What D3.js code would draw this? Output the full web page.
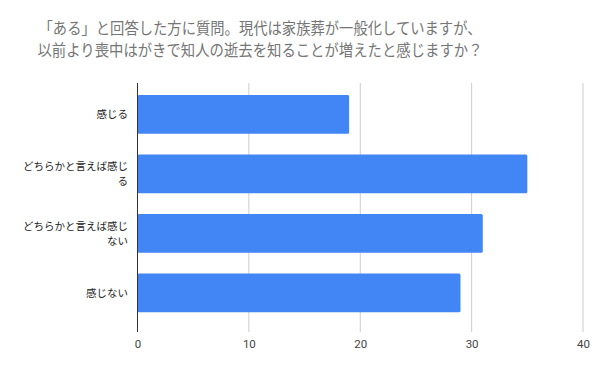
<!DOCTYPE html>
<html>
<head>
<meta charset="utf-8">
<script src="https://cdn.jsdelivr.net/npm/d3@7"></script>
<style>
  body { margin: 0; background: #fff; }
  svg { display: block; font-family: "Noto Sans CJK JP", "Noto Sans", sans-serif; }
</style>
</head>
<body>
<div id="chart"></div>
<script>
const width = 602;
const height = 372;

// data
const titleLines = [
    "「ある」と回答した方に質問。現代は家族葬が一般化していますが、",
    "以前より喪中はがきで知人の逝去を知ることが増えたと感じますか？"
];
const categories = ["感じる", "どちらかと言えば感じる", "どちらかと言えば感じない", "感じない"];
const categoryLines = [["感じる"], ["どちらかと言えば感じ", "る"], ["どちらかと言えば感じ", "ない"], ["感じない"]];
const values = [19, 35, 31, 29];
const xTicks = [0, 10, 20, 30, 40];

const plot = {left: 137.5, right: 583, top: 83, bottom: 332};

const svg = d3.select('#chart')
    .append('svg')
    .attr('width', width)
    .attr('height', height)
    .attr('viewBox', [0, 0, width, height]);

const x = d3.scaleLinear()
    .domain([0, 40])
    .range([plot.left, plot.right]);

const y = d3.scaleBand()
    .domain(categories)
    .range([84.6, 322.6])
    .paddingInner(0.35)
    .paddingOuter(0.175);

// title (the source squeezes brackets and punctuation, so fit each line to its measured width)
svg.append('g')
    .selectAll('text')
    .data(titleLines)
    .enter()
    .append('text')
        .attr('x', 260)
        .attr('y', (d, i) => 34 + i * 22)
        .attr('text-anchor', 'middle')
        .attr('font-size', 15.5)
        .attr('fill', '#757575')
        .attr('textLength', (d, i) => i === 0 ? 443 : 445)
        .attr('lengthAdjust', 'spacingAndGlyphs')
        .text(d => d);

// gridlines
svg.append('g')
    .selectAll('line')
    .data(xTicks.filter(d => d !== 0))
    .enter()
    .append('line')
        .attr('x1', d => x(d))
        .attr('x2', d => x(d))
        .attr('y1', plot.top)
        .attr('y2', plot.bottom)
        .attr('stroke', '#cccccc')
        .attr('stroke-width', 1);

// bars
svg.append('g')
    .attr('fill', '#4285f4')
    .selectAll('rect')
    .data(categories)
    .enter()
    .append('rect')
        .attr('x', x(0))
        .attr('y', d => y(d))
        .attr('width', (d, i) => x(values[i]) - x(0))
        .attr('height', y.bandwidth())
        .attr('rx', 1.5);

// baseline
svg.append('line')
    .attr('x1', x(0))
    .attr('x2', x(0))
    .attr('y1', plot.top)
    .attr('y2', plot.bottom)
    .attr('stroke', '#333333')
    .attr('stroke-width', 1);

// x tick labels
const xAxis = svg.append('g')
    .attr('transform', `translate(0, ${plot.bottom})`)
    .call(d3.axisBottom(x).tickValues(xTicks).tickSize(0).tickPadding(8));
xAxis.select('.domain').remove();
xAxis.selectAll('text')
    .attr('font-size', 11.5)
    .attr('font-family', '"Roboto", "Noto Sans", sans-serif')
    .attr('fill', '#444444');

// category labels
const labels = svg.append('g')
    .selectAll('text')
    .data(categories)
    .enter()
    .append('text')
        .attr('text-anchor', 'end')
        .attr('font-size', 10.5)
        .attr('fill', '#222222');

labels.each(function(d, i) {
    const lines = categoryLines[i];
    const cy = y(d) + y.bandwidth() / 2;
    const lh = 15;
    const top = cy - (lines.length - 1) * lh / 2;
    d3.select(this).selectAll('tspan')
        .data(lines)
        .enter()
        .append('tspan')
            .attr('x', 128)
            .attr('y', (t, j) => top + j * lh)
            .attr('dy', '0.35em')
            .text(t => t);
});
</script>
</body>
</html>
